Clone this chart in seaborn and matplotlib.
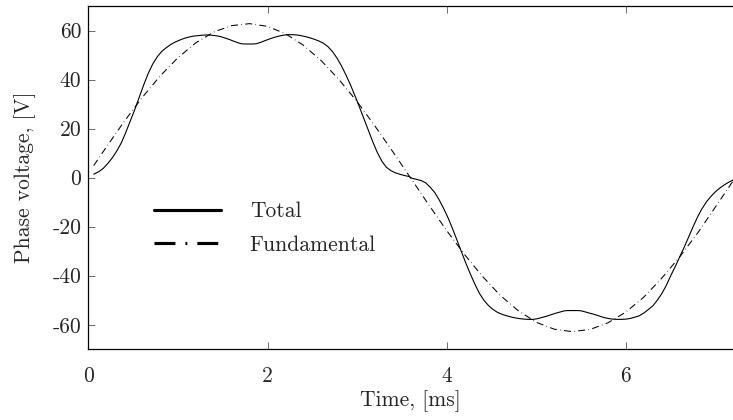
import numpy as np
import pandas as pd
import seaborn as sns
import matplotlib
matplotlib.use("Agg")
import matplotlib.pyplot as plt
from matplotlib.lines import Line2D

# ---- data ----
t_total = [0.06, 0.12, 0.17, 0.22, 0.27, 0.32, 0.37, 0.42, 0.47, 0.52,
           0.57, 0.62, 0.67, 0.72, 0.77, 0.82, 0.87, 0.92, 0.97, 1.02,
           1.07, 1.12, 1.17, 1.22, 1.27, 1.32, 1.37, 1.42, 1.47, 1.52,
           1.57, 1.62, 1.67, 1.71, 1.75, 1.785,
           1.835, 1.875, 1.925, 1.975, 2.025, 2.075, 2.125, 2.175, 2.225, 2.275,
           2.325, 2.375, 2.425, 2.475, 2.525, 2.575, 2.625, 2.675, 2.725, 2.775,
           2.825, 2.875, 2.925, 2.975, 3.025, 3.075, 3.125, 3.175, 3.225, 3.275,
           3.325, 3.375, 3.425, 3.475, 3.525, 3.575,
           3.615, 3.665, 3.715, 3.765, 3.815, 3.865, 3.915, 3.965, 4.015, 4.065,
           4.115, 4.165, 4.215, 4.265, 4.315, 4.365, 4.415, 4.465, 4.515, 4.565,
           4.615, 4.665, 4.715, 4.765, 4.815, 4.865, 4.915, 4.965, 5.015, 5.065,
           5.115, 5.165, 5.215, 5.265, 5.315, 5.355,
           5.41, 5.46, 5.50, 5.55, 5.60, 5.65, 5.70, 5.75, 5.80, 5.85,
           5.90, 5.95, 6.00, 6.05, 6.10, 6.15, 6.20, 6.25, 6.30, 6.35,
           6.40, 6.45, 6.50, 6.55, 6.60, 6.65, 6.70, 6.75, 6.80, 6.85,
           6.90, 6.95, 7.00, 7.05, 7.10, 7.15, 7.20]
v_total = [1.4, 2.5, 3.9, 5.9, 8.2, 11.0, 14.3, 18.6, 23.2, 27.9,
           33.0, 38.0, 42.6, 46.4, 49.3, 51.5, 53.0, 54.3, 55.3, 56.1,
           56.8, 57.3, 57.7, 57.9, 58.1, 58.2, 58.1, 57.9, 57.6, 57.0,
           56.4, 55.7, 55.0, 54.6, 54.5, 54.5,
           54.5, 54.6, 55.2, 55.9, 56.6, 57.2, 57.7, 58.1, 58.3, 58.3,
           58.2, 57.9, 57.5, 57.0, 56.4, 55.7, 54.8, 53.4, 51.4, 48.8,
           45.6, 41.9, 37.9, 33.5, 28.9, 24.1, 19.3, 14.6, 10.3, 6.8,
           4.3, 2.9, 2.0, 1.4, 0.9, 0.5,
           -0.3, -0.7, -1.2, -2.1, -3.9, -6.0, -9.0, -12.5, -16.4, -20.8,
           -25.5, -30.2, -35.0, -39.4, -43.5, -47.2, -50.0, -52.1, -53.7, -54.9,
           -55.7, -56.3, -56.8, -57.2, -57.5, -57.7, -57.8, -57.8, -57.5, -57.0,
           -56.5, -55.9, -55.3, -54.8, -54.3, -54.2,
           -54.2, -54.2, -54.3, -54.8, -55.3, -55.8, -56.4, -57.0, -57.4, -57.7,
           -57.8, -57.8, -57.7, -57.4, -56.9, -56.3, -55.2, -53.8, -52.3, -50.0,
           -47.3, -44.0, -40.0, -36.3, -32.4, -28.4, -24.2, -20.0, -16.0, -12.6,
           -9.8, -7.6, -5.7, -4.2, -2.9, -1.8, -0.9]

t_fund = [0.06, 0.2, 0.4, 0.6, 0.8, 1.0, 1.2, 1.4, 1.6, 1.8,
          2.0, 2.2, 2.4, 2.6, 2.8, 3.0, 3.2, 3.4, 3.6, 3.8,
          4.0, 4.2, 4.4, 4.6, 4.8, 5.0, 5.2, 5.4, 5.6, 5.8,
          6.0, 6.2, 6.4, 6.6, 6.8, 7.0, 7.2]
v_fund = [4.9, 12.4, 22.9, 32.6, 41.4, 48.9, 55.0, 59.4, 62.0, 62.8,
          61.7, 58.7, 54.0, 47.7, 39.9, 31.0, 21.0, 10.5, -0.3, -11.1,
          -21.6, -31.4, -40.3, -48.1, -54.3, -59.0, -61.8, -62.8, -61.9, -59.2,
          -54.8, -48.7, -41.0, -32.3, -22.6, -11.9, -1.1]

x_ticks = [0, 2, 4, 6]
x_tick_labels = ["0", "2", "4", "6"]
y_ticks = [-60, -40, -20, 0, 20, 40, 60]
y_tick_labels = ["-60", "-40", "-20", "0", "20", "40", "60"]
series_labels = ["Total", "Fundamental"]
x_label = "Time, [ms]"
y_label = "Phase voltage, [V]"

# ---- style ----
sns.set_theme(style="ticks")
plt.rcParams["font.family"] = ["cmr10", "DejaVu Serif"]
plt.rcParams["mathtext.fontset"] = "cm"
plt.rcParams["axes.unicode_minus"] = False
plt.rcParams["axes.formatter.use_mathtext"] = True
FS = 15.5

fig = plt.figure(figsize=(7.33, 4.20), dpi=100)
ax = fig.add_axes([88.3 / 733, 1 - 349.3 / 420, (733 - 88.3) / 733, (349.3 - 6) / 420])

dash = (0, (6.7, 3.2, 0.6, 3.2))
df_t = pd.DataFrame({"t": t_total, "v": v_total})
df_f = pd.DataFrame({"t": t_fund, "v": v_fund})
sns.lineplot(data=df_t, x="t", y="v", ax=ax, color="black", lw=0.8,
             estimator=None, sort=False)
sns.lineplot(data=df_f, x="t", y="v", ax=ax, color="black", lw=0.75,
             estimator=None, sort=False, linestyle=dash)

ax.set_xlim(0, 7.195)
ax.set_ylim(-70, 70)
ax.set_xticks(x_ticks)
ax.set_xticklabels(x_tick_labels)
ax.set_yticks(y_ticks)
ax.set_yticklabels(y_tick_labels)
ax.set_xlabel(x_label, fontsize=FS, labelpad=3)
ax.set_ylabel(y_label, fontsize=FS, labelpad=11.5)

for s in ["left", "bottom", "top"]:
    ax.spines[s].set_linewidth(0.9)
    ax.spines[s].set_color("black")
ax.spines["right"].set_visible(False)
ax.tick_params(axis="both", which="major", direction="in", length=5, width=0.6,
               color="#555555", labelsize=FS, top=True, right=False)
ax.tick_params(axis="x", pad=12.5)
ax.tick_params(axis="y", pad=5)

handles = [Line2D([0], [0], color="black", lw=2.25),
           Line2D([0], [0], color="black", lw=2.25, linestyle=dash)]
ax.legend(handles, series_labels, frameon=False, fontsize=FS,
          loc="center left", bbox_to_anchor=(0.1019, 0.3525),
          borderpad=0, borderaxespad=0, handlelength=3.1,
          handletextpad=1.35, labelspacing=0.65)

fig.savefig("out.png", dpi=100)
